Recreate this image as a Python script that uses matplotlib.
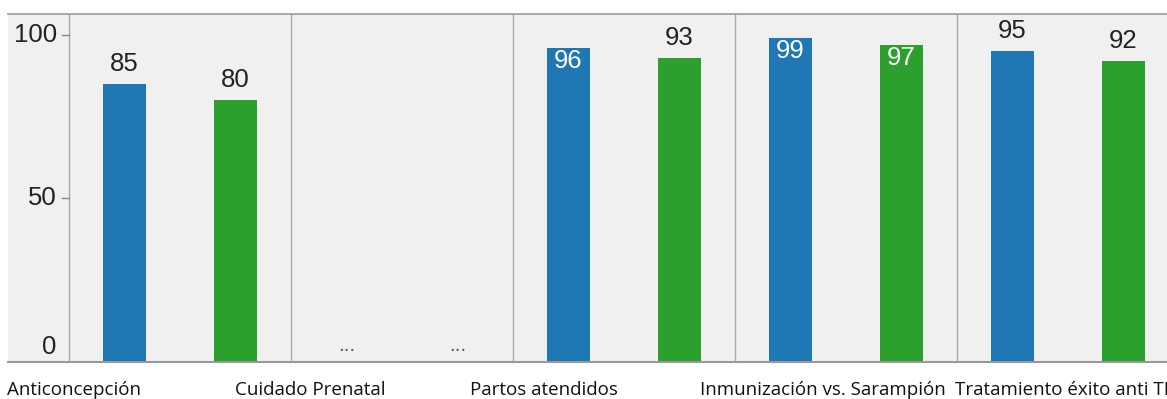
import numpy as np
import matplotlib
matplotlib.use("Agg")
import matplotlib.pyplot as plt

# Indicadores y valores (None = sin dato, se marca con "...")
categorias = ["Anticoncepción", "Cuidado Prenatal", "Partos atendidos",
              "Inmunización vs. Sarampión", "Tratamiento éxito anti TB"]
serie_a = [85, None, 96, 99, 95]
serie_b = [80, None, 93, 97, 92]
yticks = [0, 50, 100]

azul = "#1f77b4"
verde = "#2ca02c"
fondo = "#f0f0f0"
borde = "#a9a9a9"

W, H = 1167, 399
fig = plt.figure(figsize=(W / 100, H / 100), dpi=100)
fig.patch.set_facecolor("white")

# el eje va de x=8 a x=1179 px (el ultimo panel queda cortado)
ax = fig.add_axes([8 / W, (H - 362) / H, 1171 / W, 348 / H])
ax.set_facecolor(fondo)
ax.set_xlim(-0.775, 4.5)
ax.set_ylim(0, 106.4)

x = np.arange(len(categorias))
off = 0.25
ancho = 0.19
fuente = ["Liberation Sans", "DejaVu Sans"]
tam = 18.5

for i in x:
    for val, dx, col in ((serie_a[i], -off, azul), (serie_b[i], off, verde)):
        if val is None:
            ax.text(i + dx, 2.0, "...", ha="center", va="bottom",
                    fontsize=13, color="#555555", family="DejaVu Sans")
            continue
        ax.bar(i + dx, val, width=ancho, color=col, zorder=2)
        if val >= 96:
            ax.text(i + dx, val - 0.3, str(val), ha="center", va="top",
                    fontsize=tam, color="white", family=fuente, zorder=3)
        else:
            ax.text(i + dx, val + 2.5, str(val), ha="center", va="bottom",
                    fontsize=tam, color="#222222", family=fuente, zorder=3)

# separadores entre paneles (el primero hace de eje y)
for xs in np.arange(-0.5, 4.5, 1.0):
    ax.axvline(xs, color=borde, lw=1, zorder=1)

for s in ("right", "left"):
    ax.spines[s].set_visible(False)
ax.spines["top"].set_color("#999999")
ax.spines["bottom"].set_color("#999999")
ax.spines["bottom"].set_linewidth(1.5)
ax.spines["top"].set_linewidth(1.2)
ax.set_xticks([])
ax.set_yticks([])

# marcas y etiquetas del eje y dentro del margen izquierdo
for v in yticks:
    ypos = v + 4.5 if v == 0 else v
    ax.text(-0.555, ypos, str(v), ha="right", va="center", fontsize=tam,
            family=fuente, color="#222222")
    if v > 0:
        ax.plot([-0.53, -0.5], [v, v], color="#888888", lw=1, clip_on=False)

# etiquetas de categoria bajo el grafico
etiq_x = [7, 235, 470, 700, 955]
for px, txt in zip(etiq_x, categorias):
    fig.text(px / W, (H - 390) / H, txt, ha="left", va="center",
             fontsize=13.5, family=["Open Sans", "DejaVu Sans"], color="#111111")

fig.savefig("out.png", dpi=100)
